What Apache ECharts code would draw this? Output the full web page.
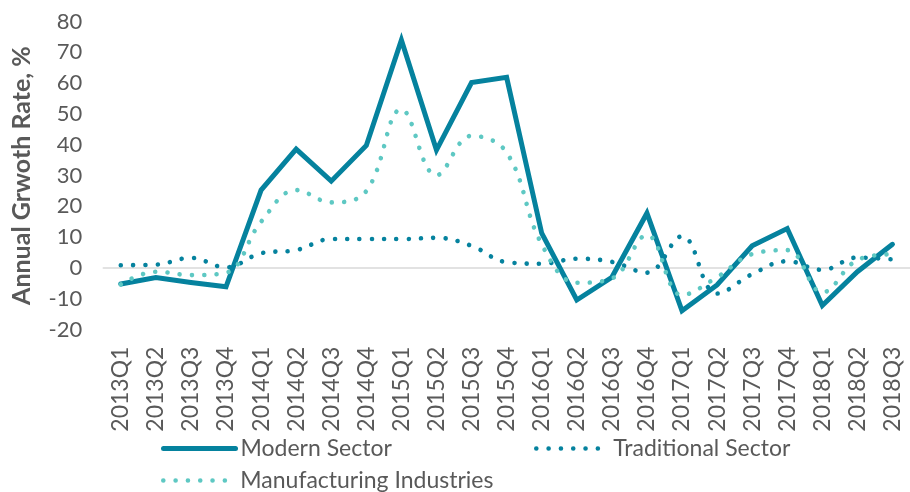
<!DOCTYPE html>
<html>
<head>
<meta charset="utf-8">
<script src="https://cdn.jsdelivr.net/npm/echarts@6/dist/echarts.min.js"></script>
<style>
html,body{margin:0;padding:0;background:#fff;}
#chart{width:910px;height:492px;}
</style>
</head>
<body>
<div id="chart"></div>
<script>
const categories = ['2013Q1','2013Q2','2013Q3','2013Q4','2014Q1','2014Q2','2014Q3','2014Q4','2015Q1','2015Q2','2015Q3','2015Q4','2016Q1','2016Q2','2016Q3','2016Q4','2017Q1','2017Q2','2017Q3','2017Q4','2018Q1','2018Q2','2018Q3'];
const modernSector = [-5.2, -3.1, -4.7, -6.1, 25.3, 38.6, 28.2, 39.8, 74.0, 38.3, 60.2, 61.9, 11.3, -10.4, -3.0, 17.8, -13.9, -5.5, 7.2, 12.8, -12.2, -1.2, 7.7];
const traditionalSector = [0.9, 1.1, 3.3, 0.2, 4.8, 5.8, 9.4, 9.4, 9.4, 9.8, 7.2, 1.9, 1.4, 3.0, 2.0, -1.5, 10.3, -8.3, -2.0, 2.2, -0.6, 3.4, 2.8];
const manufacturingIndustries = [-5.3, -1.2, -2.3, -1.5, 15.0, 25.3, 21.3, 25.0, 51.5, 30.1, 42.9, 37.5, 7.7, -4.8, -3.4, 10.7, -8.8, -3.0, 4.5, 5.8, -7.9, 2.6, 4.5];
const seriesNames = ['Modern Sector', 'Traditional Sector', 'Manufacturing Industries'];
const yTicks = { min: -20, max: 80, interval: 10 };

const DARK = '#05829E';
const LIGHT = '#5EC8C3';
const DOT = [0.01, 12.3];
const font = 'Lato';
const legendText = { fontFamily: font, fontSize: 23, color: '#595959' };
const hiddenSymbol = { opacity: 0 };

const chart = echarts.init(document.getElementById('chart'), null, { renderer: 'canvas' });
chart.setOption({
  animation: false,
  grid: { left: 103.25, right: -9.75, top: 21.6, bottom: 162.4, containLabel: false },
  xAxis: {
    type: 'category',
    data: categories,
    boundaryGap: true,
    axisLine: { show: true, onZero: true, lineStyle: { color: '#D9D9D9', width: 1.5 } },
    axisTick: { show: false },
    axisLabel: {
      rotate: 90, interval: 0, margin: 17,
      fontFamily: font, fontSize: 23, color: '#595959'
    },
    splitLine: { show: false }
  },
  yAxis: {
    type: 'value',
    min: yTicks.min, max: yTicks.max, interval: yTicks.interval,
    axisLine: { show: false },
    axisTick: { show: false },
    splitLine: { show: false },
    axisLabel: { margin: 21, fontFamily: font, fontSize: 22, color: '#595959' },
    name: 'Annual Grwoth Rate, %',
    nameLocation: 'middle',
    nameRotate: 90,
    nameGap: 69,
    nameTextStyle: { fontFamily: font, fontSize: 25, fontWeight: 'bold', color: '#595959' }
  },
  legend: [
    { data: [seriesNames[0]], left: 156, top: 432, itemWidth: 72, itemHeight: 14, textStyle: legendText,
      itemStyle: hiddenSymbol, lineStyle: { width: 5, cap: 'round' } },
    { data: [seriesNames[1]], left: 529, top: 432, itemWidth: 72, itemHeight: 14, textStyle: legendText,
      itemStyle: hiddenSymbol, lineStyle: { width: 4.6, type: DOT, cap: 'round' } },
    { data: [seriesNames[2]], left: 156, top: 464, itemWidth: 72, itemHeight: 14, textStyle: legendText,
      itemStyle: hiddenSymbol, lineStyle: { width: 4.6, type: DOT, cap: 'round' } }
  ],
  series: [
    { name: seriesNames[0], type: 'line', data: modernSector, symbol: 'none', showSymbol: false,
      lineStyle: { color: DARK, width: 5, join: 'miter', cap: 'round' }, itemStyle: { color: DARK }, z: 2 },
    { name: seriesNames[1], type: 'line', data: traditionalSector, symbol: 'none', showSymbol: false, smooth: 0.4,
      lineStyle: { color: DARK, width: 4.6, type: DOT, cap: 'round' }, itemStyle: { color: DARK }, z: 3 },
    { name: seriesNames[2], type: 'line', data: manufacturingIndustries, symbol: 'none', showSymbol: false, smooth: 0.4,
      lineStyle: { color: LIGHT, width: 4.6, type: DOT, cap: 'round' }, itemStyle: { color: LIGHT }, z: 3 }
  ]
});
</script>
</body>
</html>
